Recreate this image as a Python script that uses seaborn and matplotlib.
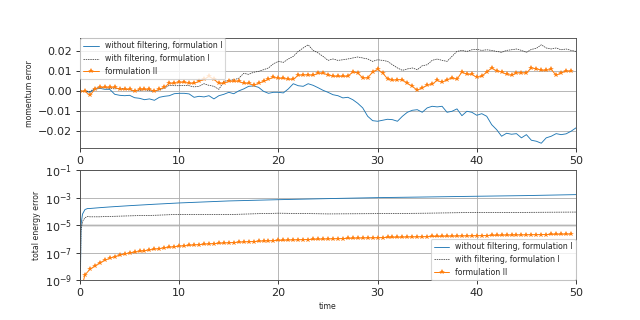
import numpy as np
import pandas as pd
import seaborn as sns
from matplotlib import pyplot as plt
from matplotlib.ticker import NullLocator

sns.set_style("ticks", rc={"axes.grid": True, "grid.color": "#b0b0b0", "grid.linewidth": 0.8,
                           "axes.edgecolor": "0.3", "axes.linewidth": 1.1})
plt.rcParams['font.family'] = ['DejaVu Sans']
plt.rcParams['font.size'] = 10

LABELS = ["without filtering, formulation I", "with filtering, formulation I", "formulation II"]
colors = ["#1f77b4", "#222222", "#ff7f0e"]
DASH = (0, (2.2, 1.2))

# momentum error (units of 1e-3)
t_mom = np.arange(0, 50.5, 0.5)
mom_nofilter = [0, 0, -0.5, 1.0, 1.5, 1.0, 1.0, -1.5, -2.0, -2.2, -2.0, -3.2, -3.5, -4.2, -3.8, -4.5,
                -3.0, -2.5, -2.2, -1.2, -1.0, -1.0, -1.3, -3.0, -2.5, -2.8, -2.2, -3.8, -2.2, -1.5,
                -0.5, -1.2, 0.2, 1.2, 2.5, 2.7, 2.0, 0.0, -1.0, -0.5, -0.5, -0.8, 1.2, 3.8, 2.8, 2.5,
                3.8, 3.0, 1.8, 0.5, -0.5, -1.7, -2.2, -3.3, -3.0, -4.2, -6.0, -8.3, -12.5, -14.7,
                -15.0, -14.5, -14.0, -14.2, -15.0, -12.5, -10.5, -9.5, -9.2, -10.5, -8.3, -7.5, -7.8,
                -7.5, -10.5, -10.0, -8.8, -12.2, -10.0, -10.5, -12.0, -11.2, -12.5, -16.7, -19.2,
                -22.5, -21.0, -21.5, -21.2, -23.3, -21.7, -24.5, -25.0, -26.0, -23.3, -22.5, -21.2,
                -21.7, -21.3, -20.0, -18.3]
mom_filter = [0, 0, 0, 1.5, 2.0, 1.8, 1.5, 1.2, 1.5, 1.2, 0.8, 0.3, 0.5, 0.8, 0.3, 0.0, 0.8, 1.5,
              3.0, 2.8, 2.8, 3.0, 2.8, 2.2, 2.5, 3.8, 3.0, 2.5, 1.0, 5.0, 5.5, 5.8, 6.5, 9.0, 8.5,
              9.5, 10.0, 10.8, 11.7, 13.8, 15.0, 14.5, 16.2, 17.5, 20.0, 21.7, 23.3, 20.5, 19.2,
              17.5, 15.5, 16.2, 15.5, 15.8, 16.2, 16.7, 17.2, 16.7, 16.2, 15.0, 15.8, 15.5, 15.0,
              13.3, 11.7, 10.5, 11.2, 11.7, 10.8, 12.8, 13.3, 15.5, 16.2, 15.5, 15.0, 17.5, 20.0,
              20.5, 20.0, 20.8, 21.0, 20.5, 20.8, 20.5, 20.0, 19.5, 20.5, 20.8, 21.2, 20.5, 19.5,
              21.0, 21.5, 23.3, 21.7, 21.2, 21.7, 20.8, 21.2, 20.5, 20.0]
t_mom2 = np.arange(0, 50, 0.5)
mom_form2 = [0, 0, -2, 1, 2, 2, 2, 2, 1, 1, 1, 0, 1, 1, 1, 0, 1, 2, 4, 4, 4.5, 4.5, 4, 4, 5, 6,
             7.5, 6, 4, 4, 5, 5, 5, 4, 4, 3, 4, 5, 6, 7, 6.5, 6.5, 6, 6, 8, 8.2, 8.2, 8, 9, 9,
             8.3, 7.5, 7.5, 7.5, 7.5, 9.7, 9.2, 6.7, 6.7, 9.7, 11, 9.2, 6.3, 5.5, 5.8, 5.8, 4,
             2.5, 0.5, 1.8, 3, 3.5, 5.5, 4.5, 5.8, 6.7, 6, 9.7, 8.5, 8.5, 7, 7.5, 9.7, 11.7, 10.2,
             9.7, 8.5, 8, 9.2, 9.2, 9.2, 11.7, 11.3, 10.5, 10.5, 11, 8, 9.2, 10.2, 10]

# total energy error
t_en = [0, 0.1, 0.25, 0.5, 0.75, 1, 2, 3, 5, 7.5, 10, 15, 20, 25, 30, 35, 40, 45, 50]
en_nofilter = [1e-12, 1e-5, 6.3e-5, 1.35e-4, 1.6e-4, 1.62e-4, 1.86e-4, 2.1e-4, 2.6e-4, 3.3e-4,
               4.1e-4, 5.75e-4, 7.1e-4, 8.5e-4, 1.0e-3, 1.12e-3, 1.26e-3, 1.41e-3, 1.66e-3]
en_filter = [1e-12, 4e-6, 1.8e-5, 3.5e-5, 4.2e-5, 4.0e-5, 4.0e-5, 4.3e-5, 4.7e-5, 5.2e-5,
             6.0e-5, 5.9e-5, 7.4e-5, 6.5e-5, 6.8e-5, 7.4e-5, 8.3e-5, 8.5e-5, 8.9e-5]
t_en2 = np.arange(0, 50, 0.5)
en_form2_exp = [-10, -8.63, -8.22, -7.98, -7.75, -7.56, -7.42, -7.3, -7.19, -7.1, -7.03, -6.97,
                -6.92, -6.87, -6.81, -6.76, -6.71, -6.66, -6.62, -6.58, -6.54, -6.51, -6.48, -6.45,
                -6.42, -6.4, -6.37, -6.35, -6.33, -6.31, -6.29, -6.27, -6.25, -6.23, -6.21, -6.2,
                -6.18, -6.16, -6.15, -6.13, -6.12, -6.11, -6.09, -6.08, -6.07, -6.06, -6.05, -6.04,
                -6.03, -6.02, -6.01, -6.0, -5.99, -5.98, -5.97, -5.96, -5.95, -5.94, -5.93, -5.93,
                -5.92, -5.91, -5.9, -5.89, -5.89, -5.88, -5.87, -5.86, -5.86, -5.85, -5.84, -5.83,
                -5.83, -5.82, -5.81, -5.81, -5.8, -5.79, -5.79, -5.78, -5.77, -5.77, -5.76, -5.75,
                -5.75, -5.74, -5.73, -5.73, -5.72, -5.72, -5.71, -5.7, -5.7, -5.69, -5.69, -5.68,
                -5.67, -5.67, -5.66, -5.66]
en_form2 = [10.0 ** e for e in en_form2_exp]

fig, (ax1, ax2) = plt.subplots(2, 1, figsize=(8, 4), dpi=80)
fig.subplots_adjust(left=0.125, right=0.9, top=0.88, bottom=0.125, hspace=0.2)

sns.lineplot(x=t_mom, y=np.array(mom_nofilter) * 1e-3, ax=ax1, color=colors[0], linewidth=0.8, label=LABELS[0])
sns.lineplot(x=t_mom, y=np.array(mom_filter) * 1e-3, ax=ax1, color=colors[1], linewidth=0.6,
             linestyle=DASH, label=LABELS[1])
sns.lineplot(x=t_mom2, y=np.array(mom_form2) * 1e-3, ax=ax1, color=colors[2], linewidth=0.9,
             marker="*", markersize=5.5, markeredgewidth=0, label=LABELS[2])
ax1.set_xlim(0, 50)
ax1.set_ylim(-0.0285, 0.0265)
ax1.set_yticks([-0.02, -0.01, 0.0, 0.01, 0.02])
ax1.set_ylabel("momentum error", fontsize="x-small")
ax1.legend(loc="upper left", bbox_to_anchor=(0, 1), borderaxespad=0, fontsize="x-small")

sns.lineplot(x=t_en, y=en_nofilter, ax=ax2, color=colors[0], linewidth=0.8, label=LABELS[0])
sns.lineplot(x=t_en, y=en_filter, ax=ax2, color=colors[1], linewidth=0.6, linestyle=DASH, label=LABELS[1])
sns.lineplot(x=t_en2, y=en_form2, ax=ax2, color=colors[2], linewidth=0.9,
             marker="*", markersize=5.5, markeredgewidth=0, label=LABELS[2])
ax2.set_yscale("log")
ax2.set_xlim(0, 50)
ax2.set_ylim(1e-9, 1e-1)
ax2.set_yticks([1e-9, 1e-7, 1e-5, 1e-3, 1e-1])
ax2.yaxis.set_minor_locator(NullLocator())
ax2.axhline(1e-5, color="0.88", linewidth=2.5, zorder=0)
ax2.set_ylabel("total energy error", fontsize="x-small")
ax2.set_xlabel("time", fontsize="x-small")
ax2.legend(loc="lower right", borderaxespad=0, fontsize="x-small")

for ax in (ax1, ax2):
    ax.set_xticks([0, 10, 20, 30, 40, 50])

plt.savefig("out.png", dpi=80)
